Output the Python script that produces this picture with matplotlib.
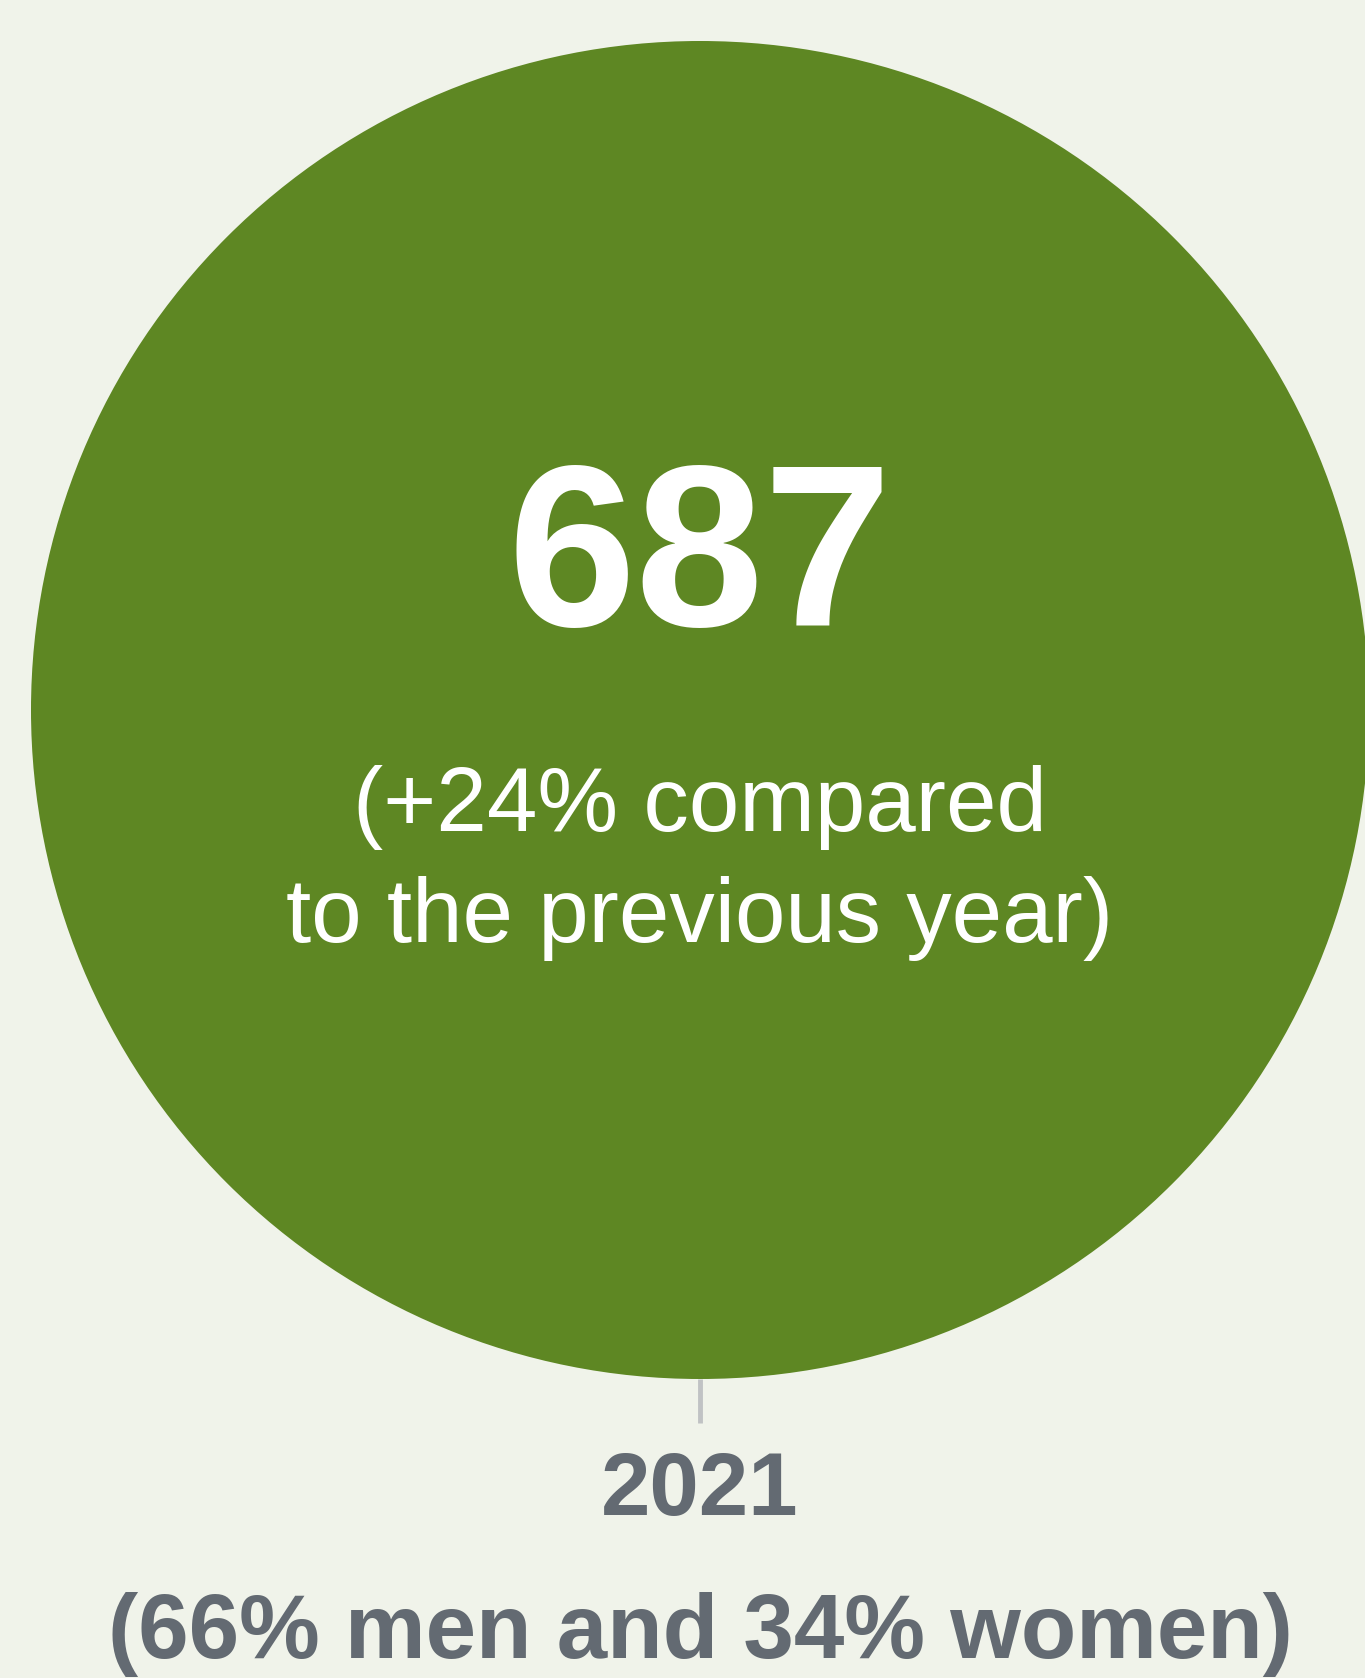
import matplotlib.pyplot as plt
from matplotlib.patches import Circle

# chart data
years = ["2021"]
totals = [687]
change_pct = [24]
men_pct = [66]
women_pct = [34]

BG = "#f0f3ea"
GREEN = "#5e8723"
GREY_TEXT = "#636a72"
TICK = "#c0c2c4"

plt.rcParams["font.family"] = ["Liberation Sans", "DejaVu Sans"]

W, H = 1365, 1678
fig = plt.figure(figsize=(W / 100, H / 100), dpi=100, facecolor=BG)
ax = fig.add_axes([0, 0, 1, 1])
ax.set_xlim(0, W)
ax.set_ylim(H, 0)
ax.set_aspect("equal")
ax.axis("off")
ax.set_facecolor(BG)

# bubble sized to fill the panel (single category)
cx, cy, r = 700, 710, 669
ax.add_patch(Circle((cx, cy), r, facecolor=GREEN, edgecolor="none"))

# short tick under the bubble
ax.plot([cx, cx], [cy + r, cy + r + 44], color=TICK, lw=3.5, solid_capstyle="butt")

ax.text(cx, 543, f"{totals[0]}", color="white", fontsize=166, fontweight="bold",
        ha="center", va="center_baseline")
ax.text(cx, 798, f"(+{change_pct[0]}% compared", color="white", fontsize=65.3,
        ha="center", va="center_baseline")
ax.text(cx, 909, "to the previous year)", color="white", fontsize=65.3,
        ha="center", va="center_baseline")

ax.text(cx, 1483, years[0], color=GREY_TEXT, fontsize=64, fontweight="bold",
        ha="center", va="center_baseline")
ax.text(cx, 1625, f"({men_pct[0]}% men and {women_pct[0]}% women)", color=GREY_TEXT,
        fontsize=65.3, fontweight="bold", ha="center", va="center_baseline")

fig.savefig("out.png", dpi=100, facecolor=BG)
